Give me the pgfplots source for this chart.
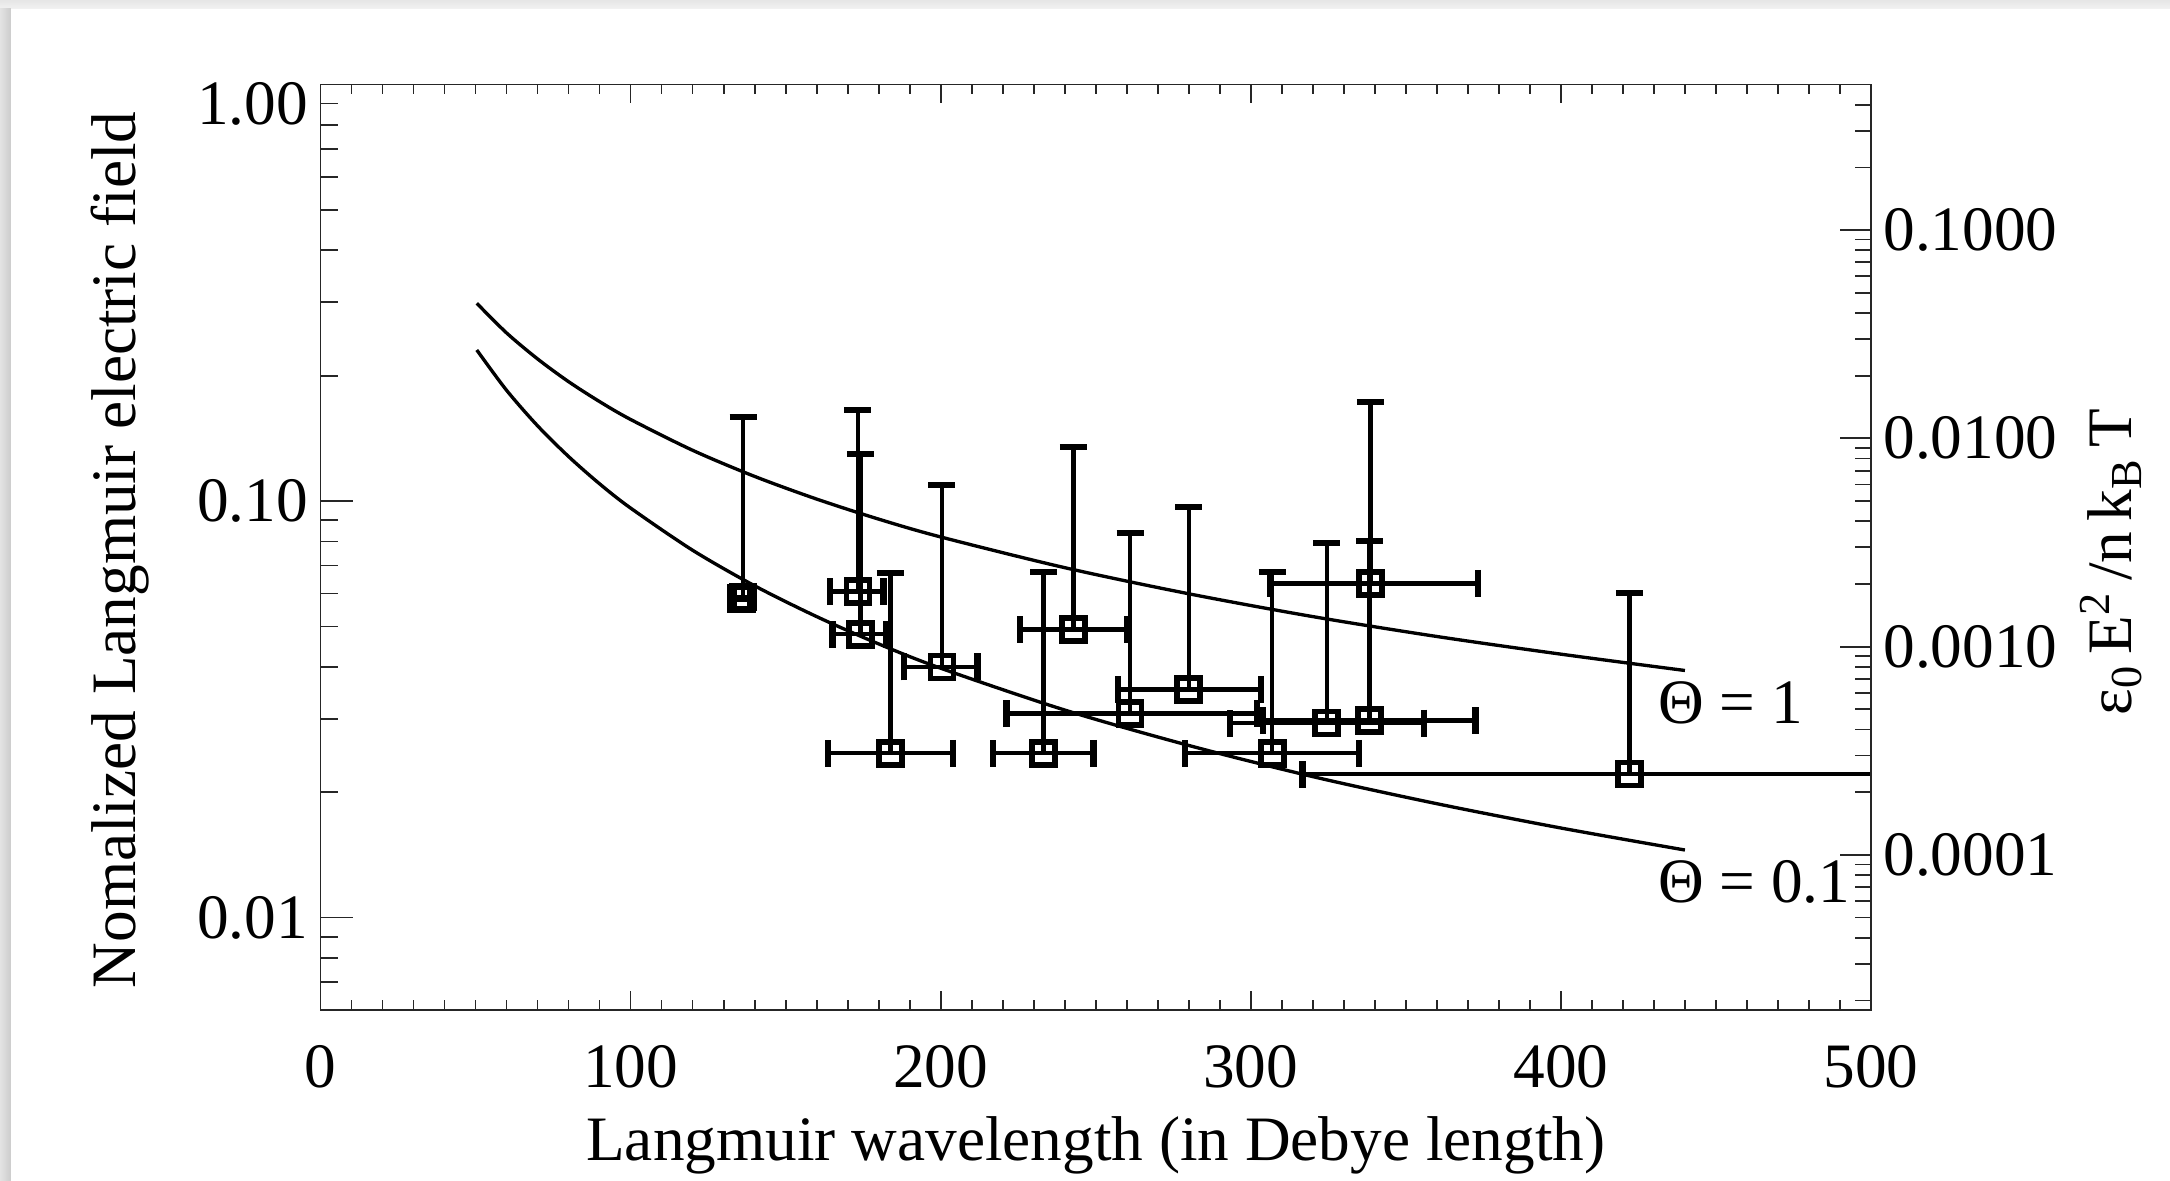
\documentclass[border=0pt]{standalone}
\usepackage{fontspec}
\setmainfont{Liberation Serif}
\usepackage{pgfplots}
\pgfplotsset{compat=1.18}
\usepackage{pgfplotstable}

% x, y, x error minus, x error plus, y error plus (offsets)
\pgfplotstableread{
x y xm xp yp
136.3 0.0589 3 3 0.1005
135.7 0.0583 3 3 0.0
173.3 0.0606 8.9 8.3 0.1048
174.1 0.0479 9.0 8.3 0.0818
183.8 0.0248 20.2 20.1 0.0423
200.4 0.0400 12.3 11.5 0.0693
233.2 0.0248 16.3 16.1 0.0427
242.8 0.0492 17.3 17.3 0.0854
261.1 0.0309 39.9 40.8 0.0530
280.0 0.0353 22.8 23.3 0.0613
306.9 0.0248 28.1 28.1 0.0427
324.5 0.0293 31.3 31.4 0.0499
338.3 0.0297 34.3 34.2 0.0506
338.6 0.0634 32.5 34.6 0.1098
422.1 0.0221 105.4 150 0.0380
}\datatable

\pgfplotsset{
  base/.style={
    scale only axis, width=155.05mm, height=92.55mm,
    at={(0,0)}, anchor=south west,
    xmin=0, xmax=500,
    axis line style={black!85, line width=0.55pt},
    tick style={black!85, line width=0.5pt},
    /pgf/number format/assume math mode=true,
  }
}

\begin{document}
\begin{tikzpicture}[font=\fontsize{18}{22}\selectfont]
\useasboundingbox (-32.05mm,-17mm) rectangle (184.95mm,101mm);
\fill[white] (-32.05mm,-17mm) rectangle (184.95mm,101mm);
\shade[top color=gray!20, bottom color=gray!10] (-32.05mm,100.1mm) rectangle (184.95mm,101mm);
\shade[left color=gray!22, right color=gray!40] (-32.05mm,-17mm) rectangle (-30.95mm,100.1mm);

% main axis: data and x ticks
\begin{axis}[base, ymode=log, ymin=0.006, ymax=1,
  xtick={0,100,200,300,400,500}, xticklabels={0,100,200,300,400,500},
  minor x tick num=9, xtick pos=both,
  major tick length=1.9mm, minor tick length=1.0mm,
  ytick=\empty, ytick style={draw=none},
  xticklabel shift=2.3mm,
  xlabel={Langmuir wavelength (in Debye length)},
  xlabel style={at={(axis description cs:0.5,-0.146)}, anchor=center},
]
% Theta = 1
\addplot[black, line width=0.95pt, smooth] coordinates {
(50.4,0.2984) (60,0.2533) (70,0.2194) (80,0.1935) (90,0.1733) (100,0.1570)
(120,0.1324) (140,0.1146) (160,0.1011) (180,0.0905) (200,0.0820) (240,0.0692)
(280,0.0599) (320,0.0528) (360,0.0473) (400,0.0429) (440,0.0392)};
% Theta = 0.1
\addplot[black, line width=0.95pt, smooth] coordinates {
(50.4,0.2305) (60,0.1845) (70,0.1516) (80,0.1279) (90,0.1100) (100,0.0962)
(120,0.0762) (140,0.0626) (160,0.0528) (180,0.0454) (200,0.0397) (240,0.0315)
(280,0.0259) (320,0.0218) (360,0.01877) (400,0.01641) (440,0.01453)};
\addplot[black, only marks, mark=square, mark size=1.15mm,
  mark options={line width=1.6pt, solid},
  error bars/.cd, x dir=both, x explicit, y dir=plus, y explicit,
  error bar style={line width=1.25pt},
  error mark options={rotate=90, mark size=1.35mm, line width=1.8pt}]
  table[x=x, y=y, x error plus=xp, x error minus=xm, y error plus=yp] {\datatable};
\node[anchor=west, inner sep=0] at (axis cs:431.2,0.0327) {Θ = 1};
\node[anchor=west, inner sep=0] at (axis cs:431.2,0.0122) {Θ = 0.1};
\end{axis}

% left y axis
\begin{axis}[base, ymode=log, ymin=0.006, ymax=1,
  xtick=\empty, xtick style={draw=none},
  ytick={0.01,0.1,1},
  yticklabels={0.01,0.10,\raisebox{-1.9mm}[\height][\depth]{1.00}},
  minor ytick={0.006,0.007,0.008,0.009,0.02,0.03,0.04,0.05,0.06,0.07,0.08,0.09,0.2,0.3,0.4,0.5,0.6,0.7,0.8,0.9},
  ytick pos=left,
  major tick length=3.3mm, minor tick length=1.8mm,
  ylabel={Nomalized Langmuir electric field},
  ylabel style={at={(axis description cs:-0.1295,0.497)}, anchor=center},
]
\end{axis}

% right y axis
\begin{axis}[base, ymode=log, ymin=1.8e-5, ymax=0.5,
  xtick=\empty, xtick style={draw=none},
  ytick={0.0001,0.001,0.01,0.1},
  yticklabels={0.0001,0.0010,0.0100,0.1000},
  minor ytick={2e-5,3e-5,4e-5,5e-5,6e-5,7e-5,8e-5,9e-5,2e-4,3e-4,4e-4,5e-4,6e-4,7e-4,8e-4,9e-4,0.002,0.003,0.004,0.005,0.006,0.007,0.008,0.009,0.02,0.03,0.04,0.05,0.06,0.07,0.08,0.09,0.2,0.3,0.4,0.5},
  ytick pos=right, yticklabel pos=right,
  major tick length=3.1mm, minor tick length=1.6mm,
  ylabel={ε\textsubscript{0}\,E\textsuperscript{2}\,/n\,k\textsubscript{B}\,T},
  ylabel style={at={(axis description cs:1.1548,0.484)}, anchor=center},
]
\end{axis}
\end{tikzpicture}
\end{document}
